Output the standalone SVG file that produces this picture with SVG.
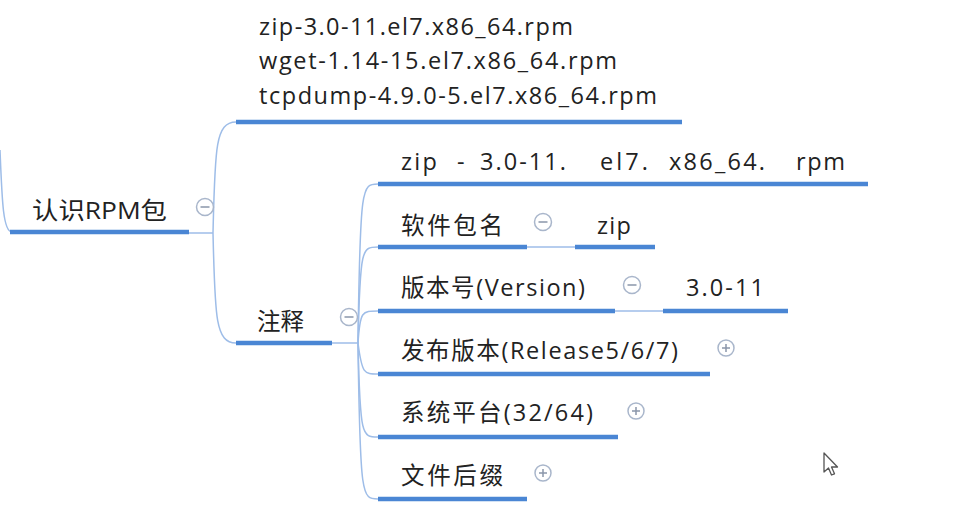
<svg xmlns="http://www.w3.org/2000/svg" width="955" height="525" viewBox="0 0 955 525">
<style>
.t{font-family:"Open Sans","Noto Sans CJK SC",sans-serif;font-size:23.5px;fill:#222}
.u{stroke:#4a86d4;stroke-width:4.5;fill:none;stroke-linecap:butt}
.c{stroke:#9ebde8;stroke-width:1.5;fill:none}
.btn{fill:#fff;stroke:#a9b6cb;stroke-width:1.5}
.sym{stroke:#8a96aa;stroke-width:1.5}
</style>
<rect width="955" height="525" fill="#fff"/>
<g id="connectors">
<path class="c" d="M0 150 C2 200 3 232 12 232"/>
<path class="c" d="M189 233 L213 233"/>
<path class="c" d="M213 233 C215 150 215 122 236 122"/>
<path class="c" d="M213 233 C215 315 215 343 236 343"/>
<path class="c" d="M332 343 L358 343"/>
<path class="c" d="M358 343 C360 184 362 184 378 184"/>
<path class="c" d="M358 343 C360 247 362 247 378 247"/>
<path class="c" d="M358 343 C360 311 362 311 378 311"/>
<path class="c" d="M358 343 C362 374 364 374 378 374"/>
<path class="c" d="M358 343 C360 437 362 437 378 437"/>
<path class="c" d="M358 343 C360 499 362 499 378 499"/>
<path class="c" d="M527 247 L575 247"/>
<path class="c" d="M615 311 L663 311"/>
</g>
<g id="root">
<line class="u" x1="10" y1="232" x2="189" y2="232"/>
<text class="t" x="32" y="219" textLength="135" lengthAdjust="spacingAndGlyphs">认识RPM包</text>
<circle class="btn" cx="205" cy="207" r="8.5"/><line class="sym" x1="200.5" y1="207" x2="209.5" y2="207"/>
</g>
<g id="examples">
<line class="u" x1="236" y1="122" x2="682" y2="122"/>
<text class="t" x="259" y="35" textLength="314" lengthAdjust="spacing">zip-3.0-11.el7.x86_64.rpm</text>
<text class="t" x="259" y="69" textLength="358" lengthAdjust="spacing">wget-1.14-15.el7.x86_64.rpm</text>
<text class="t" x="259" y="104" textLength="398" lengthAdjust="spacing">tcpdump-4.9.0-5.el7.x86_64.rpm</text>
</g>
<g id="notes">
<line class="u" x1="236" y1="343" x2="332" y2="343"/>
<text class="t" x="257" y="330">注释</text>
<circle class="btn" cx="349" cy="317" r="8.5"/><line class="sym" x1="344.5" y1="317" x2="353.5" y2="317"/>
</g>
<g id="pattern">
<line class="u" x1="378" y1="184" x2="868" y2="184"/>
<text class="t" x="401" y="170" textLength="36" lengthAdjust="spacing">zip</text>
<text class="t" x="457" y="170">-</text>
<text class="t" x="480" y="170" textLength="86" lengthAdjust="spacing">3.0-11.</text>
<text class="t" x="600" y="170" textLength="48" lengthAdjust="spacing">el7.</text>
<text class="t" x="669" y="170" textLength="96" lengthAdjust="spacing">x86_64.</text>
<text class="t" x="796" y="170" textLength="49" lengthAdjust="spacing">rpm</text>
</g>
<g id="name">
<line class="u" x1="378" y1="247" x2="527" y2="247"/>
<text class="t" x="401" y="234" textLength="102" lengthAdjust="spacing">软件包名</text>
<circle class="btn" cx="543" cy="222" r="8.5"/><line class="sym" x1="538.5" y1="222" x2="547.5" y2="222"/>
</g>
<g id="name-zip">
<line class="u" x1="575" y1="247" x2="655" y2="247"/>
<text class="t" x="597" y="234" textLength="34" lengthAdjust="spacing">zip</text>
</g>
<g id="version">
<line class="u" x1="378" y1="311" x2="615" y2="311"/>
<text class="t" x="401" y="296" textLength="184" lengthAdjust="spacing">版本号(Version)</text>
<circle class="btn" cx="632" cy="285" r="8.5"/><line class="sym" x1="627.5" y1="285" x2="636.5" y2="285"/>
</g>
<g id="version-val">
<line class="u" x1="663" y1="311" x2="788" y2="311"/>
<text class="t" x="686" y="296" textLength="78" lengthAdjust="spacing">3.0-11</text>
</g>
<g id="release">
<line class="u" x1="378" y1="374" x2="710" y2="374"/>
<text class="t" x="401" y="359" textLength="277" lengthAdjust="spacing">发布版本(Release5/6/7)</text>
<circle class="btn" cx="726" cy="348" r="8"/><line class="sym" x1="722" y1="348" x2="730" y2="348"/><line class="sym" x1="726" y1="344" x2="726" y2="352"/>
</g>
<g id="platform">
<line class="u" x1="378" y1="437" x2="618" y2="437"/>
<text class="t" x="401" y="421" textLength="192" lengthAdjust="spacing">系统平台(32/64)</text>
<circle class="btn" cx="636" cy="411" r="8"/><line class="sym" x1="632" y1="411" x2="640" y2="411"/><line class="sym" x1="636" y1="407" x2="636" y2="415"/>
</g>
<g id="suffix">
<line class="u" x1="378" y1="499" x2="527" y2="499"/>
<text class="t" x="401" y="484" textLength="102" lengthAdjust="spacing">文件后缀</text>
<circle class="btn" cx="543" cy="473" r="8"/><line class="sym" x1="539" y1="473" x2="547" y2="473"/><line class="sym" x1="543" y1="469" x2="543" y2="477"/>
</g>
<path d="M824 453 L824 472 L828.5 468 L831.5 475 L834.5 473.8 L831.5 467 L837.5 467 Z" fill="#fff" stroke="#555" stroke-width="1.3" stroke-linejoin="round"/>
</svg>
